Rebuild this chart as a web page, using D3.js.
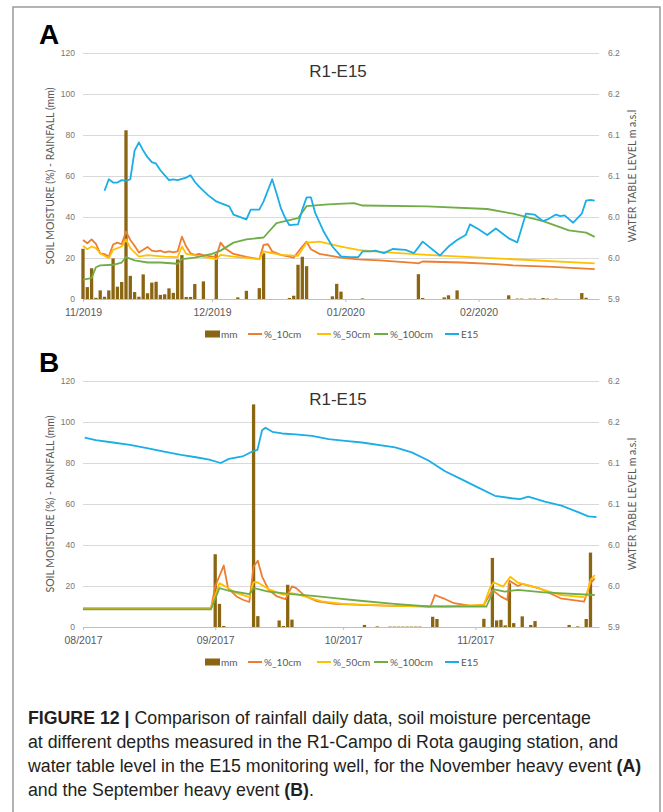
<!DOCTYPE html>
<html>
<head>
<meta charset="utf-8">
<style>
  body { margin: 0; background: #fff; }
  svg { display: block; font-family: Lato, 'Open Sans', sans-serif; }
  .grid .tick line { stroke: #d9d9d9; }
  .grid .domain { display: none; }
  .yl .domain, .yr .domain { display: none; }
  .yl .tick text, .yr .tick text { fill: #767676; font-size: 8.5px; }
  .x .domain { stroke: #bfbfbf; }
  .x .tick line { stroke: #bfbfbf; }
  .x .tick text { fill: #595959; font-size: 10.5px; }
  .axis-title { fill: #595959; font-size: 10.5px; }
  .legend text { fill: #595959; font-size: 10px; }
  .title { fill: #333; font-size: 17px; font-family: 'Liberation Sans', Arial, sans-serif; }
  .letter { fill: #000; font-size: 28px; font-weight: 700; font-family: 'Liberation Sans', Arial, sans-serif; }
  .caption { fill: #231f20; font-family: 'Liberation Sans', Arial, sans-serif; }
</style>
<title>R1-E15 rainfall, soil moisture and water table</title>
</head>
<body>
<svg width="663" height="812"></svg>
<script src="https://cdn.jsdelivr.net/npm/d3@7/dist/d3.min.js"></script>
<script>
// ---- data: day offsets from the first day of each panel ----
// panel A starts 01/11/2019, panel B starts 01/08/2017
let monthTicksA = [0, 30, 61, 92]
let monthLabelsA = ["11/2019", "12/2019", "01/2020", "02/2020"]
let monthTicksB = [0, 31, 61, 92]
let monthLabelsB = ["08/2017", "09/2017", "10/2017", "11/2017"]

let leftTicks = [0, 20, 40, 60, 80, 100, 120]
let rightTicks = [5.9, 5.95, 6.0, 6.05, 6.1, 6.15, 6.2]
let rightLabels = ["5.9", "6.0", "6.0", "6.1", "6.1", "6.2", "6.2"]

let legendKeys = ["mm", "%_10cm", "%_50cm", "%_100cm", "E15"]

// rainfall mm [day, mm]
let rainA = [[0,24.5],[1,5.8],[2,15],[3,0.6],[4,4.2],[5,1.1],[6,4.2],[7,19.8],[8,6],[9,8.3],[10,82.3],
  [11,11.3],[12,3.4],[13,1.1],[14,12],[15,2.8],[16,8],[17,8.4],[18,2],[19,2.3],[20,5.2],[21,3],[22,19.3],
  [23,21.4],[24,1],[25,1],[26,7.3],[28,8.6],[31,22],[36,0.8],[38,4],[41,5.3],[42,22.3],[48,0.5],[49,1.6],
  [50,16.7],[51,20.6],[52,16],[58,1.3],[59,7.4],[60,3.6],[65,0.3],[78,12.1],[79,0.5],[84,0.8],[85,1.8],
  [87,4.2],[99,1.8],[101,0.2],[102,0.2],[104,0.2],[105,0.2],[107,0.5],[108,0.2],[110,0.2],[116,2.9],[117,0.6]]

let soil10A = [[0,28.8],[1,27.2],[2,29.1],[3,26.9],[4,22.2],[5,21.9],[6,20.7],[7,26.6],[8,27.5],[9,26.7],
  [10,32.9],[11,28.8],[12,26],[13,22.7],[14,24],[15,25.4],[16,23.6],[17,23.2],[18,23.6],[19,22.7],[20,23.2],
  [21,22.7],[22,23.2],[23,30.4],[24,25.6],[25,22.3],[26,21.5],[27,22],[28,21.4],[30,20.7],[31,20.7],
  [32,27.5],[33,24.8],[35,22],[38,20.6],[41,19.4],[42,26.4],[43,26.7],[44,23.2],[46,21.5],[49,20.2],
  [51,25.6],[52,28],[53,24.3],[55,22],[60,20.2],[64,19.3],[69,18.8],[77,17.6],[78,17.4],[79,18.3],
  [88,17.8],[96,17],[100,16.4],[108,15.8],[119,14.6]]

let soil50A = [[0,26],[1,24.3],[2,25.6],[3,24.8],[4,22.3],[6,19.9],[7,24],[9,25.6],[10,29.1],[11,24.8],
  [13,20.7],[15,21.4],[19,20.7],[22,20.4],[23,25.6],[24,22],[28,20.6],[31,19.4],[32,21.5],[35,20.7],
  [41,19.4],[42,23.2],[46,21.5],[50,21],[52,27.5],[55,28],[60,25.6],[64,24],[69,23],[80,21.5],[96,19.8],[119,17.4]]

let soil100A = [[0,9.4],[2,10.2],[3,15.5],[4,16.4],[7,16.7],[9,17.8],[10,20.4],[12,18.8],[15,17.8],[18,17.8],
  [22,17.2],[23,19.4],[26,20.2],[30,22],[32,23.6],[35,27.5],[38,29.1],[42,30],[45,37],[48,38.5],[50,39.4],
  [52,45.3],[57,46.2],[63,46.8],[65,45.6],[80,45.2],[94,43.9],[100,41.6],[107,38],[113,33.5],[117,32.4],[119,30.3]]

// water table, m a.s.l.
let wellA = [[5,6.032],[6,6.046],[7,6.042],[8,6.042],[9,6.045],[10,6.044],[11,6.046],[12,6.081],[13,6.091],
  [14,6.081],[15,6.073],[16,6.067],[17,6.065],[18,6.057],[20,6.045],[21,6.046],[22,6.045],[24,6.048],
  [25,6.051],[26,6.043],[27,6.037],[29,6.027],[31,6.019],[32,6.017],[34,6.013],[35,6.003],[38,5.997],
  [39,6.009],[41,6.009],[42,6.019],[44,6.046],[45,6.029],[46,6.011],[47,5.999],[48,5.990],[50,5.991],
  [51,6.009],[52,6.024],[53,6.024],[54,6.005],[56,5.982],[58,5.964],[60,5.952],[62,5.951],[64,5.951],
  [65,5.958],[67,5.958],[68,5.959],[70,5.956],[72,5.961],[75,5.960],[77,5.956],[79,5.970],[83,5.953],
  [85,5.964],[87,5.972],[89,5.978],[90,5.991],[92,5.985],[94,5.978],[96,5.986],[99,5.974],[101,5.969],
  [103,6.004],[105,6.003],[107,5.995],[108,5.997],[110,6.003],[111,6.001],[112,6.002],[114,5.993],
  [116,6.004],[117,6.020],[118,6.021],[119,6.020]]

let rainB = [[31,35.5],[32,11.3],[33,0.5],[40,108.6],[41,5.3],[46,3.2],[47,0.5],[48,20.6],[49,3.6],[66,1],
  [69,0.3],[72,0.2],[73,0.2],[74,0.2],[75,0.2],[76,0.2],[77,0.2],[78,0.2],[79,0.2],[82,5],[83,3.9],[94,4],
  [96,33.7],[97,3.2],[98,3.5],[99,0.8],[100,21.3],[101,1.9],[103,5.2],[105,1],[106,2.9],[114,1],[116,0.3],
  [118,3.9],[119,36.3]]

let soil10B = [[0,9],[30,9],[31,19.8],[33,30],[34,19],[36,14.9],[37.5,13.3],[39,12.2],[40,29.5],[41,32.3],
  [42,24.6],[43.5,18.2],[45.5,14.9],[47.5,13.6],[49,19.8],[50,19],[52,15.2],[55,12.5],[59,11.3],[65,10.8],
  [73,10.3],[81.5,10],[82.5,15.6],[84.5,14],[87,11.6],[91,10.3],[94,10.8],[96,18],[98,14.8],[99.5,13.2],
  [100,22.6],[102,20],[103,21],[107,18.9],[112,14],[117.5,12.4],[119,21.3],[120,23.7]]

let soil50B = [[0,9.3],[30,9.3],[32,21.4],[34,19],[36,16.5],[39,14.6],[40,21.9],[41,21.7],[43.5,18.5],
  [47,15.7],[49,16.5],[52,14.9],[56,12.5],[61,11.3],[65,10.9],[73,10.3],[85,10],[94,10.8],[95.4,18.9],
  [96.3,21.8],[98.5,19.7],[100.2,24.5],[102,21.6],[106,19.4],[112,15.6],[118,14.5],[119,22.9],[120,25.3]]

let soil100B = [[0,8.6],[30,8.6],[32,19],[34,17.8],[39,16],[40,19],[43.5,17.3],[49,16],[54,15.2],[59,14.1],
  [65,12.8],[73,11.3],[81,10],[94.6,10],[96.4,18.4],[98.9,17.3],[102,18.1],[108,16.9],[120,15.6]]

let wellB = [[0.4,6.131],[3,6.128],[7,6.125],[11,6.122],[15,6.118],[19,6.114],[23,6.110],[26.5,6.107],
  [29.6,6.104],[32.3,6.100],[34.2,6.105],[37.4,6.108],[39.7,6.114],[40.9,6.116],[42,6.140],[42.8,6.143],
  [44.4,6.138],[46.7,6.136],[49.8,6.135],[53.7,6.133],[57.6,6.129],[61.5,6.127],[65.4,6.125],[73.2,6.119],
  [77.1,6.113],[81,6.103],[84.9,6.090],[88.8,6.080],[92.7,6.070],[96.6,6.060],[100.5,6.057],[102.5,6.056],
  [104.4,6.059],[108.3,6.053],[112.2,6.048],[116.1,6.040],[118.5,6.035],[120.4,6.034]]

let colors = {
  mm: "#8a6512",
  "%_10cm": "#ed7d31",
  "%_50cm": "#ffc000",
  "%_100cm": "#70ad47",
  E15: "#1aaee6"
}

let svg = d3.select("svg")

svg.append("rect").attr("width", 663).attr("height", 812).attr("fill", "#fff")
svg.append("path")
  .attr("d", "M13,812V7H660V812")
  .attr("fill", "none")
  .attr("stroke", "#9a9a9a")
  .attr("stroke-width", 1.5)

function drawPanel(p) {
  let g = svg.append("g").attr("transform", `translate(0,${p.dy})`)
  let top = 53, bottom = 299, left = 83, right = 599

  let x = d3.scaleLinear().domain([0, p.days]).range([left, right])
  let y = d3.scaleLinear().domain([0, 120]).range([bottom, top])
  let yR = d3.scaleLinear().domain([5.9, 6.2]).range([bottom, top])

  g.append("text").attr("class", "letter").attr("x", 39).attr("y", 44).text(p.letter)
  g.append("text").attr("class", "title").attr("x", 338).attr("y", 77)
    .attr("text-anchor", "middle").text("R1-E15")

  // gridlines
  g.append("g").attr("class", "grid")
    .attr("transform", `translate(${left},0)`)
    .call(d3.axisLeft(y).tickValues(leftTicks.slice(1)).tickSize(-(right - left)).tickFormat(""))

  g.append("g").attr("class", "yl")
    .attr("transform", `translate(${left},0)`)
    .call(d3.axisLeft(y).tickValues(leftTicks).tickSize(0).tickPadding(8))

  g.append("g").attr("class", "yr")
    .attr("transform", `translate(${right},0)`)
    .call(d3.axisRight(yR).tickValues(rightTicks).tickSize(0).tickPadding(9)
      .tickFormat((d, i) => rightLabels[i]))

  g.append("g").attr("class", "x")
    .attr("transform", `translate(0,${bottom})`)
    .call(d3.axisBottom(x).tickValues(p.ticks).tickSize(3).tickSizeOuter(0).tickPadding(7)
      .tickFormat((d, i) => p.labels[i]))

  // rain bars
  g.append("g").selectAll("rect")
    .data(p.rain)
    .join("rect")
    .attr("x", d => x(d[0]) - 1.65)
    .attr("width", 3.3)
    .attr("y", d => y(d[1]))
    .attr("height", d => bottom - y(d[1]))
    .attr("fill", colors.mm)

  let line = d3.line().x(d => x(d[0])).y(d => y(d[1]))
  let lineR = d3.line().x(d => x(d[0])).y(d => yR(d[1]))

  let series = [["%_10cm", p.s10], ["%_50cm", p.s50], ["%_100cm", p.s100]]
  series.forEach(s => {
    g.append("path").datum(s[1])
      .attr("fill", "none").attr("stroke", colors[s[0]])
      .attr("stroke-width", 1.8).attr("stroke-linejoin", "round")
      .attr("d", line)
  })
  g.append("path").datum(p.well)
    .attr("fill", "none").attr("stroke", colors.E15)
    .attr("stroke-width", 1.8).attr("stroke-linejoin", "round")
    .attr("d", lineR)

  // axis titles
  g.append("text").attr("class", "axis-title")
    .attr("transform", `translate(54,${(top + bottom) / 2}) rotate(-90)`)
    .attr("text-anchor", "middle")
    .text("SOIL MOISTURE (%) - RAINFALL (mm)")
  g.append("text").attr("class", "axis-title")
    .attr("transform", `translate(636,${(top + bottom) / 2}) rotate(-90)`)
    .attr("text-anchor", "middle")
    .text("WATER TABLE LEVEL m a.s.l")

  // legend
  let lg = g.append("g").attr("class", "legend").attr("transform", "translate(0,334)")
  let legX = [205, 248, 317, 374, 445]
  legendKeys.forEach((k, i) => {
    if (k == "mm") {
      lg.append("rect").attr("x", legX[i]).attr("y", -3.5).attr("width", 15).attr("height", 7)
        .attr("fill", colors[k])
    } else {
      lg.append("line").attr("x1", legX[i]).attr("x2", legX[i] + 14)
        .attr("stroke", colors[k]).attr("stroke-width", 2)
    }
    lg.append("text").attr("x", legX[i] + 16).attr("y", 3.5).text(k)
  })
}

drawPanel({ dy: 0, letter: "A", days: 120, ticks: monthTicksA, labels: monthLabelsA,
  rain: rainA, s10: soil10A, s50: soil50A, s100: soil100A, well: wellA })
drawPanel({ dy: 328, letter: "B", days: 121, ticks: monthTicksB, labels: monthLabelsB,
  rain: rainB, s10: soil10B, s50: soil50B, s100: soil100B, well: wellB })

// caption
let capLines = [
  [["FIGURE 12 | ", true], ["Comparison of rainfall daily data, soil moisture percentage", false]],
  [["at different depths measured in the R1-Campo di Rota gauging station, and", false]],
  [["water table level in the E15 monitoring well, for the November heavy event ", false], ["(A)", true]],
  [["and the September heavy event ", false], ["(B)", true], [".", false]]
]
let cap = svg.append("g").attr("class", "caption")
let capTexts = capLines.map((ln, i) => {
  let t = cap.append("text").attr("x", 28).attr("y", 724 + i * 24).style("font-size", "16px")
  ln.forEach(part => {
    t.append("tspan").attr("font-weight", part[1] ? 700 : 400).text(part[0])
  })
  return t
})
// fit font size so lines 2 and 3 together span the width seen in the figure
let w23 = (capTexts[1].node().getComputedTextLength() + capTexts[2].node().getComputedTextLength()) / 2
let fs = 16 * 602 / w23
capTexts.forEach(t => t.style("font-size", fs + "px"))
</script>
</body>
</html>
